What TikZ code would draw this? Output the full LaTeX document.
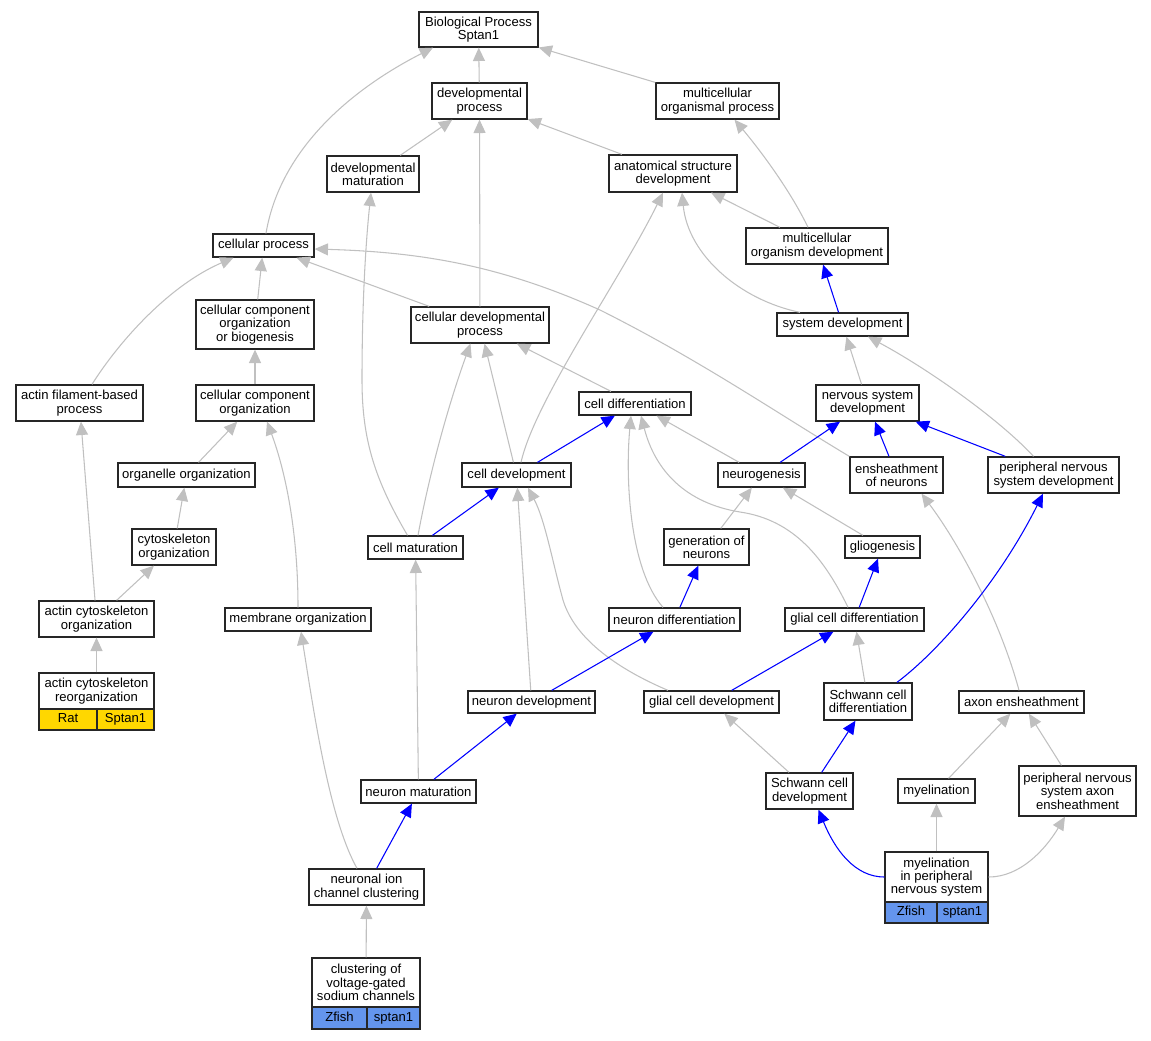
\documentclass[tikz,border=0pt]{standalone}
\usepackage{fontspec}
\setmainfont{Liberation Sans}
\usetikzlibrary{arrows.meta,calc}
\definecolor{edgegray}{RGB}{192,192,192}
\definecolor{edgeblue}{RGB}{0,0,255}
\definecolor{ratgold}{RGB}{255,215,0}
\definecolor{fishblue}{RGB}{100,149,237}
\tikzset{
  box/.style={draw=black!85, line width=1pt, fill=white, inner sep=0pt, align=center,
    font=\fontsize{9.8}{10}\selectfont},
  sz/.style 2 args={minimum width=#1*0.75pt, minimum height=#2*0.75pt},
  ge/.style={draw=edgegray, line width=0.8pt, -{Triangle[length=10pt,width=9pt,color=edgegray]}},
  be/.style={draw=edgeblue, line width=0.8pt, -{Triangle[length=10pt,width=9pt,color=edgeblue]}},
  cell/.style={text height=7pt, text depth=2pt},
  gold/.style={fill=ratgold, cell},
  fish/.style={fill=fishblue, cell}
}
\begin{document}
\begin{tikzpicture}[x=0.75pt,y=-0.75pt]
\useasboundingbox (0,0) rectangle (1151,1040);
% nodes
\node[box,sz={119}{35}] (bp) at (478.5,29.5) {Biological Process\\Sptan1};
\node[box,sz={95}{36}] (dp) at (479.5,101) {developmental\\process};
\node[box,sz={123}{36}] (mop) at (717.5,101) {multicellular\\organismal process};
\node[box,sz={92}{36}] (dm) at (373,174) {developmental\\maturation};
\node[box,sz={128}{37}] (asd) at (673,173.5) {anatomical structure\\development};
\node[box,sz={101}{23}] (cp) at (263.5,245.5) {cellular process};
\node[box,sz={142}{36}] (mod) at (817,246) {multicellular\\organism development};
\node[box,sz={118}{49}] (ccoob) at (255,324.5) {cellular component\\organization\\or biogenesis};
\node[box,sz={138}{36}] (cdp) at (480,325) {cellular developmental\\process};
\node[box,sz={131}{23}] (sd) at (842.5,324.5) {system development};
\node[box,sz={127}{36}] (afbp) at (79.5,403) {actin filament-based\\process};
\node[box,sz={118}{36}] (cco) at (255,403) {cellular component\\organization};
\node[box,sz={112}{23}] (cdiff) at (635,403.5) {cell differentiation};
\node[box,sz={103}{36}] (nsd) at (867.5,403) {nervous system\\development};
\node[box,sz={137}{24}] (oo) at (186.5,475) {organelle organization};
\node[box,sz={109}{24}] (cd) at (516.5,475) {cell development};
\node[box,sz={87}{24}] (ng) at (761.5,475) {neurogenesis};
\node[box,sz={93}{36}] (eon) at (896.5,475) {ensheathment\\of neurons};
\node[box,sz={131}{36}] (pnsd) at (1053.5,475) {peripheral nervous\\system development};
\node[box,sz={84}{36}] (co) at (174,547) {cytoskeleton\\organization};
\node[box,sz={95}{23}] (cm) at (415.5,547.5) {cell maturation};
\node[box,sz={85}{36}] (gon) at (706.5,547) {generation of\\neurons};
\node[box,sz={75}{22}] (glio) at (882.5,547) {gliogenesis};
\node[box,sz={115}{36}] (aco) at (96.5,619) {actin cytoskeleton\\organization};
\node[box,sz={146}{23}] (mo) at (298,619.5) {membrane organization};
\node[box,sz={131}{23}] (ndiff) at (674.5,619.5) {neuron differentiation};
\node[box,sz={139}{23}] (gcdiff) at (854.5,619.5) {glial cell differentiation};
\node[box,sz={115}{36}] (acr) at (96.5,691) {actin cytoskeleton\\reorganization};
\node[box,gold,sz={58}{21}] (acr1) at (68,719.5) {Rat};
\node[box,gold,sz={57}{21}] (acr2) at (125.5,719.5) {Sptan1};
\node[box,sz={127}{22}] (ndev) at (531.5,702) {neuron development};
\node[box,sz={135}{22}] (gcdev) at (711.5,702) {glial cell development};
\node[box,sz={88}{37}] (scdiff) at (868,701.5) {Schwann cell\\differentiation};
\node[box,sz={125}{22}] (ae) at (1021.5,702) {axon ensheathment};
\node[box,sz={115}{23}] (nm) at (418.5,791.5) {neuron maturation};
\node[box,sz={87}{36}] (scdev) at (809.5,791) {Schwann cell\\development};
\node[box,sz={77}{24}] (my) at (936.5,791) {myelination};
\node[box,sz={117}{50}] (pnsae) at (1077.5,791) {peripheral nervous\\system axon\\ensheathment};
\node[box,sz={103}{50}] (mipns) at (936.5,877) {myelination\\in peripheral\\nervous system};
\node[box,fish,sz={52}{21}] (mipns1) at (911,912.5) {Zfish};
\node[box,fish,sz={51}{21}] (mipns2) at (962.5,912.5) {sptan1};
\node[box,sz={115}{36}] (nicc) at (366.5,887) {neuronal ion\\channel clustering};
\node[box,sz={108}{49}] (cvgsc) at (366,982.5) {clustering of\\voltage-gated\\sodium channels};
\node[box,fish,sz={55}{22}] (cvgsc1) at (339.5,1018) {Zfish};
\node[box,fish,sz={53}{22}] (cvgsc2) at (393.5,1018) {sptan1};
% gray straight edges
\draw[ge] (dp) -- (bp);
\draw[ge] (mop) -- (bp);
\draw[ge] (dm) -- (dp);
\draw[ge] (asd) -- (dp);
\draw[ge] (cdp) -- (dp);
\draw[ge] (mod) -- (asd);
\draw[ge] (ccoob) -- (cp);
\draw[ge] (cdp) -- (cp);
\draw[ge] (cco) -- (ccoob);
\draw[ge] (oo) -- (cco);
\draw[ge] (co) -- (oo);
\draw[ge] (aco) -- (co);
\draw[ge] (aco) -- (afbp);
\draw[ge] (acr) -- (aco);
\draw[ge] (cd) -- (cdp);
\draw[ge] (cdiff) -- (cdp);
\draw[ge] (nsd) -- (sd);
\draw[ge] (ng) -- (cdiff);
\draw[ge] (gon) -- (ng);
\draw[ge] (glio) -- (ng);
\draw[ge] (ndev) -- (cd);
\draw[ge] (scdiff) -- (gcdiff);
\draw[ge] (scdev) -- (gcdev);
\draw[ge] (my) -- (ae);
\draw[ge] (pnsae) -- (ae);
\draw[ge] (mipns) -- (my);
\draw[ge] (nm) -- (cm);
\draw[ge] (cvgsc) -- (nicc);
% gray curved edges
\draw[ge] ($(cp.north)+(2.5,0)$) .. controls (280,150) and (350,90) .. ($(bp.south)+(-45.5,0)$);
\draw[ge] ($(mod.north)+(-9,0)$) .. controls (790,190) and (760,150) .. ($(mop.south)+(17,0)$);
\draw[ge] ($(sd.north)+(-42.5,0)$) .. controls (740,300) and (688,255) .. ($(asd.south)+(9,0)$);
\draw[ge] ($(cd.north)+(4.5,0)$) .. controls (535,400) and (620,280) .. ($(asd.south)+(-10,0)$);
\draw[ge] ($(afbp.north)+(12.5,0)$) .. controls (120,340) and (170,285) .. ($(cp.south)+(-30,0)$);
\draw[ge] (eon.north west) .. controls (780,415) and (700,360) .. (600,310) .. controls (500,265) and (420,252) .. ($(cp.east)+(0,3.5)$);
\draw[ge] (mo.north) .. controls (298,530) and (285,470) .. ($(cco.south)+(12,0)$);
\draw[ge] ($(cm.north)+(-8,0)$) .. controls (375,480) and (362,440) .. (362,380) .. controls (362,300) and (366,240) .. ($(dm.south)+(-2,0)$);
\draw[ge] ($(cm.north)+(2.5,0)$) .. controls (430,470) and (450,400) .. ($(cdp.south)+(-9.5,0)$);
\draw[ge] ($(pnsd.north)+(-20,0)$) .. controls (1000,420) and (930,370) .. ($(sd.south)+(25.5,0)$);
\draw[ge] ($(ndiff.north)+(-11.5,0)$) .. controls (630,570) and (625,480) .. ($(cdiff.south)+(-4,0)$);
\draw[ge] ($(gcdiff.north)+(-6.5,0)$) .. controls (825,560) and (795,520) .. (740,512) .. controls (685,503) and (655,470) .. ($(cdiff.south)+(6,0)$);
\draw[ge] ($(ae.north)+(-2.5,0)$) .. controls (1000,620) and (960,545) .. ($(eon.south)+(25,0)$);
\draw[ge] ($(gcdev.north)+(-43.5,0)$) .. controls (620,670) and (575,640) .. (563,600) .. controls (552,560) and (545,520) .. ($(cd.south)+(11.5,0)$);
\draw[ge] (mipns.east) .. controls (1020,877) and (1045,850) .. ($(pnsae.south)+(-12.5,0)$);
\draw[ge] ($(nicc.north)+(-9.5,0)$) .. controls (330,820) and (315,720) .. ($(mo.south)+(3,0)$);
% blue edges
\draw[be] (sd) -- (mod);
\draw[be] (ng) -- (nsd);
\draw[be] (eon) -- (nsd);
\draw[be] (pnsd) -- (nsd);
\draw[be] (cd) -- (cdiff);
\draw[be] (cm) -- (cd);
\draw[be] (ndiff) -- (gon);
\draw[be] (ndev) -- (ndiff);
\draw[be] (gcdev) -- (gcdiff);
\draw[be] (gcdiff) -- (glio);
\draw[be] (scdev) -- (scdiff);
\draw[be] (nm) -- (ndev);
\draw[be] (nicc) -- (nm);
\draw[be] ($(scdiff.north)+(29,0)$) .. controls (940,650) and (1000,580) .. ($(pnsd.south)+(-10.5,0)$);
\draw[be] (mipns.west) .. controls (855,877) and (835,850) .. ($(scdev.south)+(9,0)$);
\end{tikzpicture}
\end{document}
